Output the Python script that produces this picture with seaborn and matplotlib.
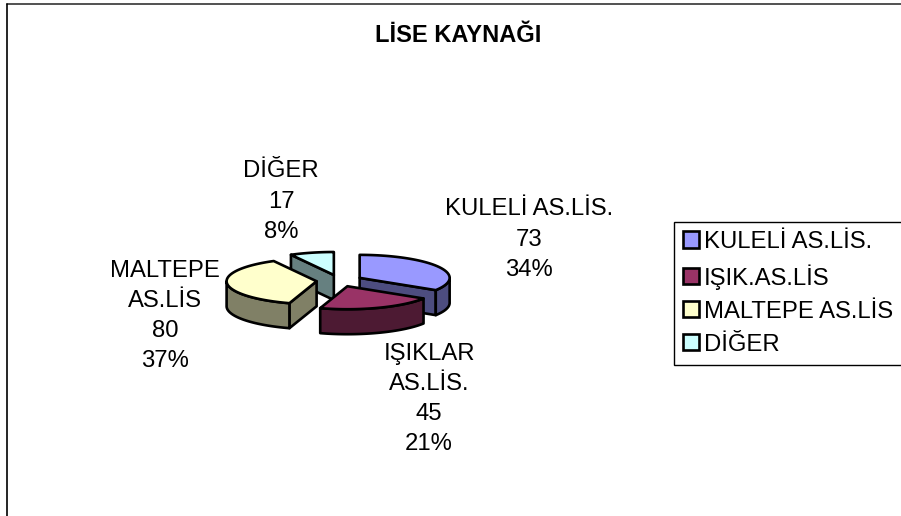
import numpy as np
import matplotlib.pyplot as plt
from matplotlib.patches import Polygon, Patch
import seaborn as sns

# Data
legend_names = ["KULELİ AS.LİS.", "IŞIK.AS.LİS", "MALTEPE AS.LİS", "DİĞER"]
label_names = ["KULELİ AS.LİS.", "IŞIKLAR\nAS.LİS.", "MALTEPE\nAS.LİS", "DİĞER"]
counts = [73, 45, 80, 17]
top_colors = ["#9999FF", "#993366", "#FFFFCC", "#CCFFFF"]
side_colors = ["#4D4D80", "#4D1A33", "#808066", "#668080"]

sns.set_theme(style="white")
plt.rcParams["font.family"] = ["Liberation Sans", "DejaVu Sans"]

# Pie geometry, in pixels of the picture
cx, cy = 339.5, 280.7
rx, ry = 90, 23
depth = 25
explode = 23
edge_w = 1.9
label_pos = [(529, 239.5), (429, 399), (165, 316), (281, 201.5)]
draw_order = [3, 0, 2, 1]

fig, ax = plt.subplots(figsize=(9.01, 5.16), dpi=100)
ax.set_position([0, 0, 1, 1])
ax.set_xlim(0, 901)
ax.set_ylim(516, 0)
ax.axis("off")

# Chart frame, only top and left show
ax.plot([7, 901], [4, 4], color="#333333", lw=1.2)
ax.plot([7, 7], [4, 516], color="black", lw=1.2)


def rim_point(x0, y0, deg):
    a = np.radians(deg)
    return x0 + rx * np.sin(a), y0 - ry * np.cos(a)


total = sum(counts)
ends = np.cumsum(counts) / total * 360
starts = np.concatenate([[0], ends[:-1]])

for i in draw_order:
    a0, a1 = starts[i], ends[i]
    mid = np.radians((a0 + a1) / 2)
    x0 = cx + explode * np.sin(mid)
    y0 = cy - explode * (ry / rx) * np.cos(mid)
    degs = np.linspace(a0, a1, 80)
    px, py = rim_point(x0, y0, degs)
    style = dict(edgecolor="black", linewidth=edge_w, joinstyle="round")

    # radial faces that turn to the viewer
    if np.sin(np.radians(a0)) < -1e-6:
        ex, ey = rim_point(x0, y0, a0)
        ax.add_patch(Polygon([(x0, y0), (ex, ey), (ex, ey + depth), (x0, y0 + depth)],
                             facecolor=side_colors[i], **style))
    if np.sin(np.radians(a1)) > 1e-6:
        ex, ey = rim_point(x0, y0, a1)
        ax.add_patch(Polygon([(x0, y0), (ex, ey), (ex, ey + depth), (x0, y0 + depth)],
                             facecolor=side_colors[i], **style))

    # outer rim on the front half
    lo, hi = max(a0, 90), min(a1, 270)
    if hi > lo:
        rim_d = np.linspace(lo, hi, 60)
        rx_p, ry_p = rim_point(x0, y0, rim_d)
        rim = np.column_stack([np.r_[rx_p, rx_p[::-1]], np.r_[ry_p, ry_p[::-1] + depth]])
        ax.add_patch(Polygon(rim, facecolor=side_colors[i], **style))

    # top of the slice
    ax.add_patch(Polygon(np.column_stack([np.r_[x0, px], np.r_[y0, py]]),
                         facecolor=top_colors[i], **style))

# Data labels
for name, n, (lx, ly) in zip(label_names, counts, label_pos):
    ax.text(lx, ly, f"{name}\n{n}\n{n / total:.0%}", ha="center", va="center",
            fontsize=17.2, color="black", linespacing=1.48)

ax.text(458, 35, "LİSE KAYNAĞI", ha="center", va="center", fontsize=17, fontweight="bold", color="black")

handles = [Patch(facecolor=c, edgecolor="black", linewidth=edge_w) for c in top_colors]
leg = ax.legend(handles, legend_names, loc="upper left", bbox_to_anchor=(673.5, 222),
                bbox_transform=ax.transData, borderaxespad=0, fontsize=17.2, frameon=True,
                fancybox=False, edgecolor="black", framealpha=1, borderpad=0.38,
                labelspacing=0.46, handlelength=0.68, handleheight=0.68, handletextpad=0.2,
                labelcolor="black")
leg.get_frame().set_linewidth(1.0)

fig.savefig("out.png", dpi=100)
